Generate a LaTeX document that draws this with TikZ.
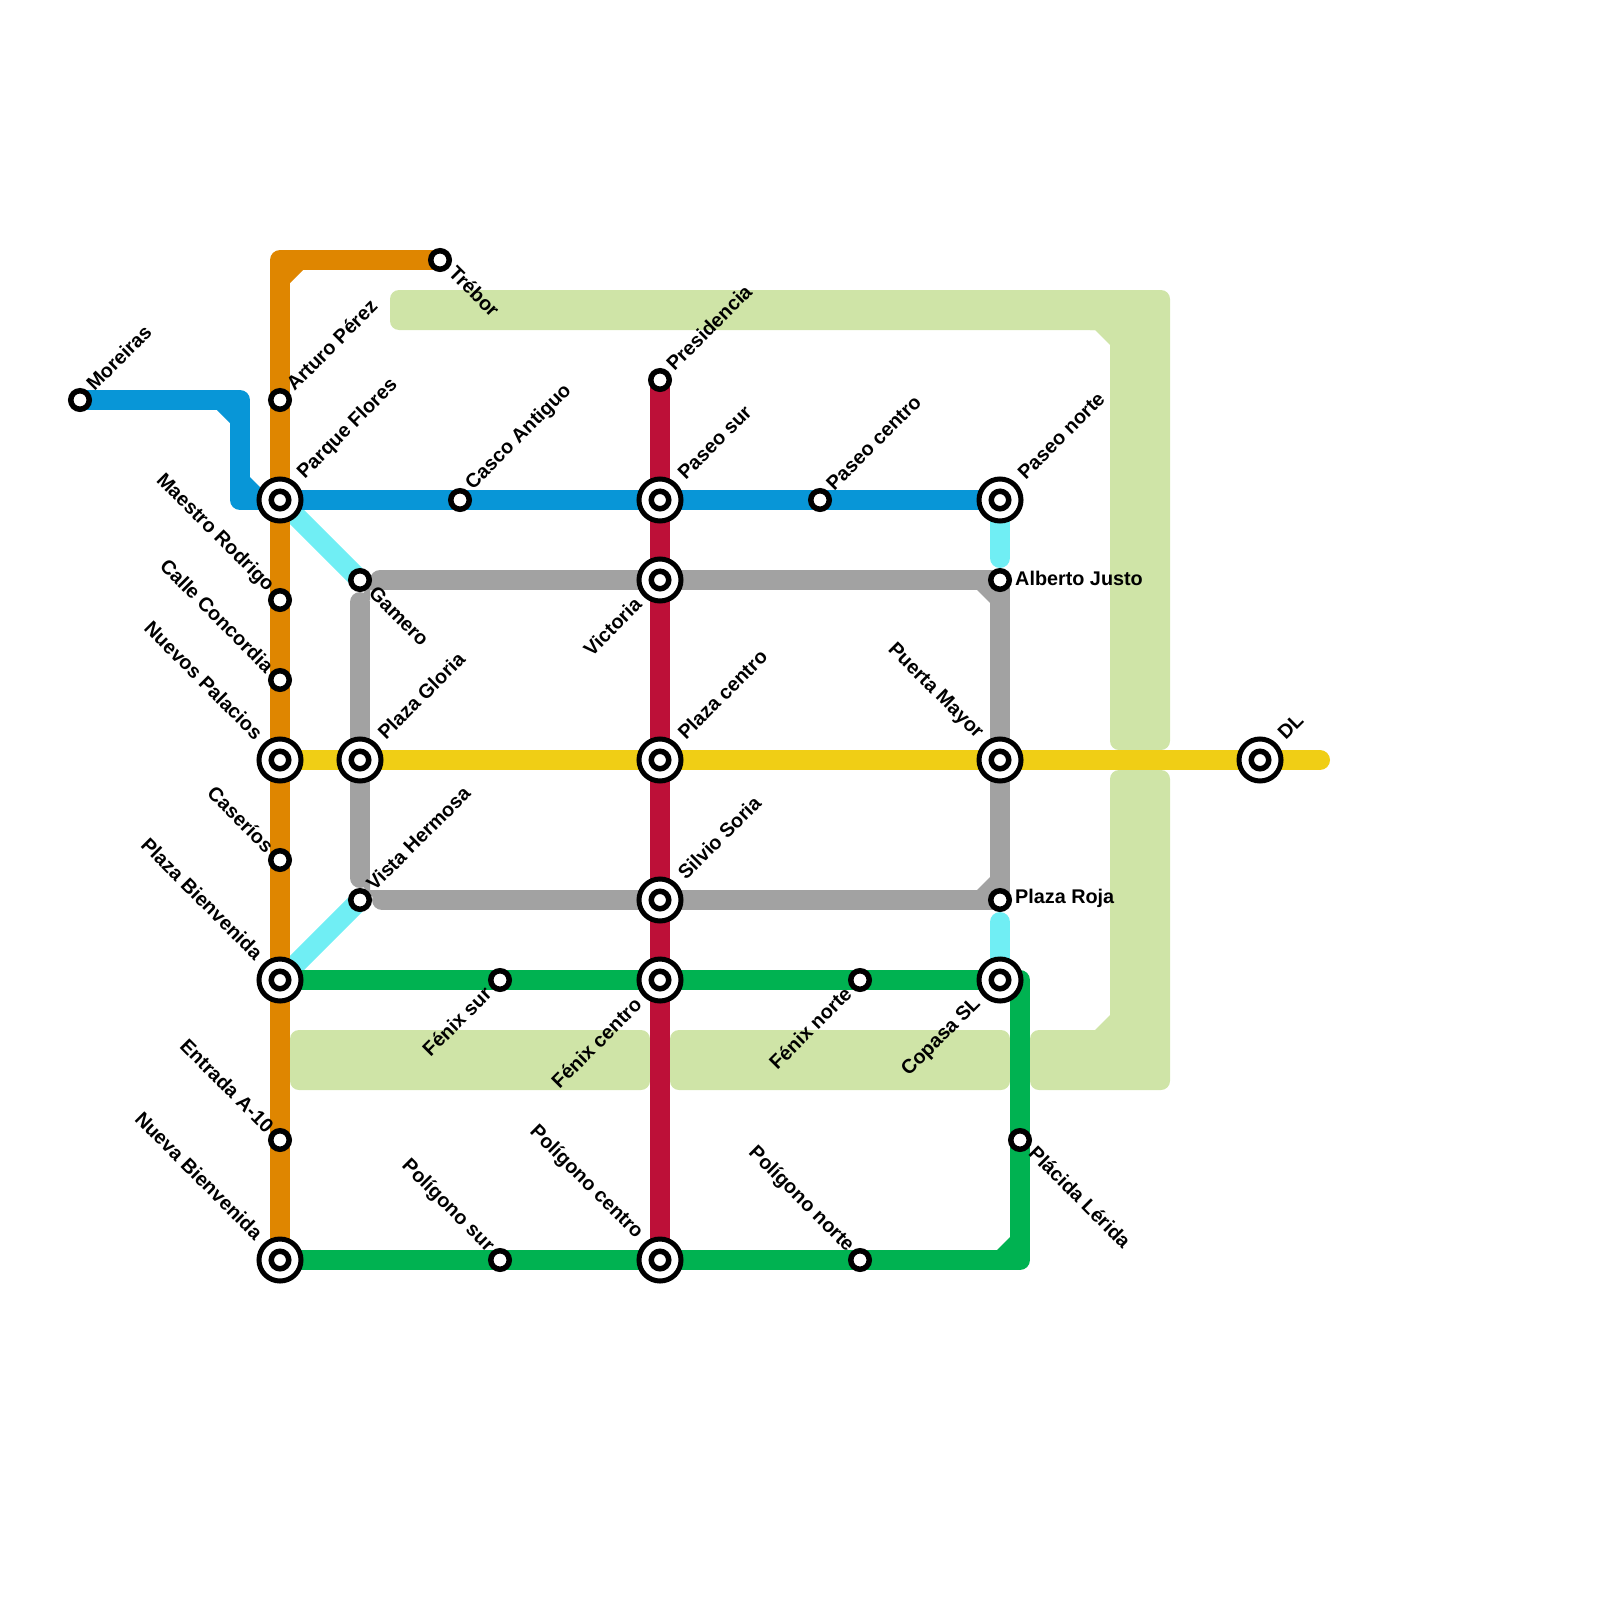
\documentclass[tikz,border=0pt]{standalone}
\usepackage{fontspec}
\setmainfont{Liberation Sans}
\pgfdeclarelayer{bg}
\pgfdeclarelayer{lines}
\pgfsetlayers{bg,lines,main}
\definecolor{cblue}{HTML}{0896D7}
\definecolor{corange}{HTML}{DF8600}
\definecolor{ccyan}{HTML}{70EEF4}
\definecolor{cgray}{HTML}{A2A2A2}
\definecolor{cred}{HTML}{BD1038}
\definecolor{cyellow}{HTML}{F0CE15}
\definecolor{cgreen}{HTML}{00B251}
\definecolor{cland}{HTML}{CFE4A7}
\tikzset{
  stnsmall/.style={circle,draw=black,fill=white,line width=5.5pt,minimum size=18.5pt,inner sep=0pt,outer sep=0pt},
  stnbig/.style={circle,draw=black,fill=white,line width=5pt,minimum size=42pt,inner sep=0pt,outer sep=0pt},
  stninner/.style={circle,draw=black,fill=white,line width=5.5pt,minimum size=17.5pt,inner sep=0pt,outer sep=0pt},
  lab/.style={font=\fontsize{19.8}{20}\selectfont\bfseries,inner sep=0pt,text=black},
  urs/.style={lab,xshift=9.5pt,yshift=13pt,rotate=45,anchor=west},
  urb/.style={lab,xshift=21pt,yshift=24pt,rotate=45,anchor=west},
  drs/.style={lab,xshift=12.5pt,yshift=-9.5pt,rotate=-45,anchor=west},
  uls/.style={lab,xshift=-9.5pt,yshift=11pt,rotate=-45,anchor=east},
  ulb/.style={lab,xshift=-20.5pt,yshift=24pt,rotate=-45,anchor=east},
  dls/.style={lab,xshift=-12pt,yshift=-10pt,rotate=45,anchor=east},
  dlb/.style={lab,xshift=-22pt,yshift=-21pt,rotate=45,anchor=east},
  rs/.style={lab,xshift=15pt,yshift=2pt,anchor=west},
  metro/.style={line width=20pt,line cap=round,line join=round},
  land/.style={fill=cland,rounded corners=9pt},
}
\newcommand\sst[3]{\node[stnsmall] (#1) at (#2) {};\node[#3] at (#1.center)}
\newcommand\bst[3]{\node[stnbig] (#1) at (#2) {};\node[stninner] (#1i) at (#1.center) {};\node[#3] at (#1.center)}
\begin{document}
\begin{tikzpicture}[x=1pt,y=-1pt]
\useasboundingbox (0,0) rectangle (1600,1600);

\sst{moreiras}{80,400}{urs} (lmoreiras) {Moreiras};
\sst{trebor}{440,260}{drs} (ltrebor) {Trébor};
\sst{arturo}{280,400}{urs} (larturo) {Arturo Pérez};
\bst{parque}{280,500}{urb} (lparque) {Parque Flores};
\sst{casco}{460,500}{urs} (lcasco) {Casco Antiguo};
\bst{paseosur}{660,500}{urb} (lpaseosur) {Paseo sur};
\sst{paseocentro}{820,500}{urs} (lpaseocentro) {Paseo centro};
\bst{paseonorte}{1000,500}{urb} (lpaseonorte) {Paseo norte};
\sst{presidencia}{660,380}{urs} (lpresidencia) {Presidencia};
\sst{alberto}{1000,580}{rs} (lalberto) {Alberto Justo};
\bst{victoria}{660,580}{dlb} (lvictoria) {Victoria};
\sst{gamero}{360,580}{drs} (lgamero) {Gamero};
\sst{maestro}{280,600}{uls} (lmaestro) {Maestro Rodrigo};
\sst{concordia}{280,680}{uls} (lconcordia) {Calle Concordia};
\bst{nuevos}{280,760}{ulb} (lnuevos) {Nuevos Palacios};
\bst{gloria}{360,760}{urb} (lgloria) {Plaza Gloria};
\bst{plazacentro}{660,760}{urb} (lplazacentro) {Plaza centro};
\bst{puerta}{1000,760}{ulb} (lpuerta) {Puerta Mayor};
\bst{dl}{1260,760}{urb} (ldl) {DL};
\sst{caserios}{280,860}{uls} (lcaserios) {Caseríos};
\sst{vista}{360,900}{urs} (lvista) {Vista Hermosa};
\bst{silvio}{660,900}{urb} (lsilvio) {Silvio Soria};
\sst{roja}{1000,900}{rs} (lroja) {Plaza Roja};
\bst{bienvenida}{280,980}{ulb} (lbienvenida) {Plaza Bienvenida};
\sst{fenixsur}{500,980}{dls} (lfenixsur) {Fénix sur};
\bst{fenixcentro}{660,980}{dlb} (lfenixcentro) {Fénix centro};
\sst{fenixnorte}{860,980}{dls} (lfenixnorte) {Fénix norte};
\bst{copasa}{1000,980}{dlb} (lcopasa) {Copasa SL};
\sst{entrada}{280,1140}{uls} (lentrada) {Entrada A-10};
\sst{placida}{1020,1140}{drs} (lplacida) {Plácida Lérida};
\bst{nueva}{280,1260}{ulb} (lnueva) {Nueva Bienvenida};
\sst{polisur}{500,1260}{uls} (lpolisur) {Polígono sur};
\bst{policentro}{660,1260}{ulb} (lpolicentro) {Polígono centro};
\sst{polinorte}{860,1260}{uls} (lpolinorte) {Polígono norte};

\coordinate (orangecorner) at (280,260);
\coordinate (bluecornerA) at (240,400);
\coordinate (bluecornerB) at (240,500);
\coordinate (yellowend) at (1320,760);
\coordinate (grayTR) at (1000,580);
\coordinate (grayBR) at (1000,900);
\coordinate (grayTLh) at (380,580);
\coordinate (grayTLv) at (360,602);
\coordinate (grayBLv) at (360,878);
\coordinate (grayBLh) at (382,900);
\coordinate (greenTR) at (1020,980);
\coordinate (greenBR) at (1020,1260);
\coordinate (cyanA) at (1000,558);
\coordinate (cyanB) at (1000,922);

\begin{pgfonlayer}{bg}
  % land bands
  \fill[land] (390,290) -- (1170,290) -- (1170,750) -- (1110,750) -- (1110,330) -- (390,330) -- cycle;
  \fill[cland] (1090,330) -- (1095,330) -- (1110,345) -- (1115,345) -- (1115,325) -- (1090,325) -- cycle;
  \fill[land] (1110,770) -- (1170,770) -- (1170,1090) -- (1030,1090) -- (1030,1030) -- (1110,1030) -- cycle;
  \fill[cland] (1090,1030) -- (1095,1030) -- (1110,1015) -- (1115,1015) -- (1115,1035) -- (1090,1035) -- cycle;
  \fill[land] (290,1030) rectangle (650,1090);
  \fill[land] (670,1030) rectangle (1010,1090);
\end{pgfonlayer}

\begin{pgfonlayer}{lines}
  % cyan
  \draw[metro,ccyan,line cap=butt] (parque.center) -- (gamero.center);
  \draw[metro,ccyan,line cap=butt] (bienvenida.center) -- (vista.center);
  \draw[metro,ccyan] (paseonorte.center) -- (cyanA);
  \draw[metro,ccyan] (cyanB) -- (copasa.center);
  % gray
  \draw[metro,cgray] (grayTLh) -- (victoria.center) -- (grayTR) -- (puerta.center) -- (grayBR) -- (silvio.center) -- (grayBLh);
  \draw[metro,cgray] (grayTLv) -- (gloria.center) -- (grayBLv);
  \fill[cgray] (977,590) -- (990,603) -- (990,590) -- cycle;
  \fill[cgray] (977,890) -- (990,877) -- (990,890) -- cycle;
  \fill[cgray] (360,600) -- (370,600) -- (370,590) -- (380,590) -- (380,580) -- (368,585) -- cycle;
  \fill[cgray] (360,880) -- (370,880) -- (370,890) -- (382,890) -- (382,900) -- (368,895) -- cycle;
  % green
  \draw[metro,cgreen] (bienvenida.center) -- (fenixsur.center) -- (fenixcentro.center) -- (fenixnorte.center) -- (copasa.center) -- (greenTR) -- (placida.center) -- (greenBR) -- (polinorte.center) -- (policentro.center) -- (polisur.center) -- (nueva.center);
  \fill[cgreen] (997,1250) -- (1010,1237) -- (1010,1250) -- cycle;
  % yellow
  \draw[metro,cyellow] (nuevos.center) -- (gloria.center) -- (plazacentro.center) -- (puerta.center) -- (dl.center) -- (yellowend);
  % red
  \draw[metro,cred] (presidencia.center) -- (paseosur.center) -- (victoria.center) -- (plazacentro.center) -- (silvio.center) -- (fenixcentro.center) -- (policentro.center);
  % blue
  \draw[metro,cblue] (moreiras.center) -- (bluecornerA) -- (bluecornerB) -- (parque.center) -- (casco.center) -- (paseosur.center) -- (paseocentro.center) -- (paseonorte.center);
  \fill[cblue] (217,410) -- (230,423) -- (230,410) -- cycle;
  \fill[cblue] (250,477) -- (263,490) -- (250,490) -- cycle;
  % orange
  \draw[metro,corange] (trebor.center) -- (orangecorner) -- (arturo.center) -- (parque.center) -- (maestro.center) -- (concordia.center) -- (nuevos.center) -- (caserios.center) -- (bienvenida.center) -- (entrada.center) -- (nueva.center);
  \fill[corange] (303,270) -- (290,283) -- (290,270) -- cycle;
\end{pgfonlayer}
\end{tikzpicture}
\end{document}
